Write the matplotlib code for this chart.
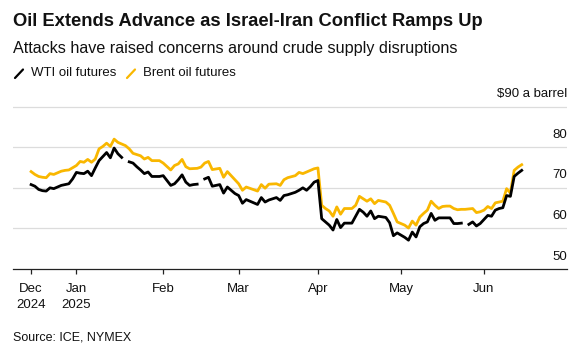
import numpy as np
import matplotlib
matplotlib.use("Agg")
import matplotlib.pyplot as plt
from matplotlib.lines import Line2D

plt.rcParams['font.family'] = ['Liberation Sans', 'DejaVu Sans']

nan = np.nan

# Trading-day number (weekdays counted from 2024-12-16) and settlement price, $/bbl
brent_days = [0, 1, 2, 3, 4, 5, 6, 8, 9, 10, 12, 13, 14, 15, 16, 17, 18, 19, 20, 21,
              22, 23, 24, 25, 26, 27, 29, 30, 31, 32, 34, 35, 37, 38, 39, 40, 41, 42, 44, 45,
              46, 47, 48, 50, 51, 52, 53, 54, 55, 56, 57, 60, 61, 62, 63, 65, 66, 67, 68, 70,
              71, 72, 74, 75, 76, 77, 78, 79, 80, 81, 82, 83, 84, 85, 86, 87, 88, 89, 90, 91,
              92, 94, 95, 96, 97, 99, 100, 101, 102, 103, 104, 105, 106, 107, 108, 109, 110, 111, 112, 113,
              114, 115, 116, 117, 118, 119, 120, 121, 122, 123, 124, 125, 126, 127, 128, 129, 130]
brent_prices = [74.0, 73.3, 72.8, 72.6, 72.5, 73.5, 73.3, 74.1, 74.3, 74.4, 75.5, 76.5, 76.3, 77.0, 76.3, 77.1, 79.6, 80.2, 81.0, 80.2,
                82.0, 81.2, 80.8, 80.4, 79.6, 78.5, 77.9, 77.1, 77.5, 76.7, 76.7, 76.1, 74.4, 75.5, 75.9, 77.0, 75.2, 74.7, 74.8, 75.1,
                76.1, 76.5, 74.5, 74.8, 72.6, 74.0, 73.0, 72.0, 71.0, 69.4, 70.2, 69.2, 70.8, 69.9, 70.9, 71.0, 70.6, 72.0, 72.5, 73.0,
                73.8, 73.5, 74.3, 74.7, 74.9, 65.7, 64.9, 64.3, 63.0, 65.3, 63.5, 64.9, 64.9, 64.9, 65.7, 67.9, 67.3, 66.7, 67.3, 66.1,
                66.9, 66.5, 65.7, 63.7, 61.6, 60.8, 60.1, 61.8, 60.8, 62.8, 63.7, 64.5, 66.7, 65.7, 64.9, 65.4, 65.5, 65.5, 64.9, 64.6,
                64.7, 64.7, 64.8, 64.9, 63.9, 64.1, 64.5, 65.4, 64.9, 66.3, 66.5, 66.7, 69.8, 68.7, 74.3, 75.1, 75.7]

# NYMEX has no settlement on US holidays (MLK Day, Presidents Day, Memorial Day)
wti_days = [0, 1, 2, 3, 4, 5, 6, 8, 9, 10, 11, 12, 13, 14, 15, 16, 17, 18, 19, 20,
            21, 22, 23, 24, 25, 26, 27, 28, 29, 30, 31, 32, 34, 35, 37, 38, 39, 40, 41, 42,
            43, 44, 45, 46, 47, 48, 50, 51, 52, 53, 54, 55, 56, 57, 60, 61, 62, 63, 65, 66,
            67, 68, 70, 71, 72, 73, 74, 75, 76, 77, 78, 79, 80, 81, 82, 83, 84, 85, 87, 88,
            89, 90, 91, 92, 94, 95, 96, 97, 99, 100, 101, 102, 103, 104, 105, 106, 107, 108, 109, 110,
            111, 112, 113, 114, 115, 116, 117, 118, 119, 120, 121, 122, 123, 124, 125, 126, 127, 128, 129, 130]
wti_prices = [70.8, 70.4, 69.6, 69.3, 69.2, 70.0, 69.8, 70.6, 70.8, 71.0, 72.2, 73.8, 73.6, 73.5, 74.1, 73.0, 74.9, 76.7, 77.7, 78.7,
              77.4, 79.8, 78.4, 77.5, nan, 76.4, 76.1, 75.2, 74.4, 73.5, 73.9, 72.8, 72.8, 73.0, 70.6, 71.0, 72.0, 73.2, 71.4, 70.6,
              70.8, 70.9, nan, 72.2, 72.6, 70.4, 70.8, 68.7, 70.2, 69.4, 68.6, 68.1, 66.2, 67.1, 65.9, 67.6, 66.5, 67.0, 67.6, 66.9,
              68.1, 68.3, 68.9, 69.4, 70.0, 69.4, 70.3, 71.4, 71.8, 62.4, 61.6, 60.8, 59.6, 62.2, 60.2, 61.3, 61.3, 61.3, 64.7, 64.0,
              63.0, 64.3, 62.4, 63.0, 62.7, 61.4, 58.2, 58.9, 57.8, 57.1, 59.1, 57.9, 60.4, 61.2, 61.6, 63.7, 62.0, 62.6, 62.6, 62.6,
              62.6, 61.2, 61.2, 61.3, nan, 61.0, 61.6, 60.6, 61.2, 62.2, 63.2, 63.0, 64.5, 64.9, 65.1, 68.1, 67.9, 72.8, 73.6, 74.3]

start_date = '2024-12-16'
tick_dates = ['2024-12-16', '2025-01-01', '2025-02-03', '2025-03-03', '2025-04-01', '2025-05-01', '2025-06-02']
tick_labels = ['Dec\n2024', 'Jan\n2025', 'Feb', 'Mar', 'Apr', 'May', 'Jun']
y_ticks = [50, 60, 70, 80, 90]
y_labels = ['50', '60', '70', '80', '$90 a barrel']

series_names = ['WTI oil futures', 'Brent oil futures']
WTI_COLOR = '#000000'
BRENT_COLOR = '#F9B700'
TEXT = '#111111'

W, H = 584, 347
fig = plt.figure(figsize=(W / 100, H / 100), dpi=100)
fig.patch.set_facecolor('white')

ax = fig.add_axes([13 / W, (H - 269) / H, (567 - 13) / W, (269 - 102.6) / H])
ax.set_xlim(-4.8, 142)
ax.set_ylim(50, 91)

ax.plot(brent_days, brent_prices, color=BRENT_COLOR, lw=2.0, solid_joinstyle='round', zorder=3)
ax.plot(wti_days, wti_prices, color=WTI_COLOR, lw=2.0, solid_joinstyle='round', zorder=4)

for s in ['top', 'right', 'left']:
    ax.spines[s].set_visible(False)
ax.spines['bottom'].set_color('#222222')
ax.spines['bottom'].set_linewidth(0.9)

ax.set_yticks(y_ticks[1:])
ax.tick_params(axis='y', length=0, labelleft=False)
ax.grid(axis='y', color='#dcdcdc', lw=0.9)
ax.set_axisbelow(True)

tick_pos = np.busday_count(start_date, tick_dates)
ax.set_xticks(tick_pos)
ax.set_xticklabels(tick_labels, fontsize=9.5, color=TEXT, linespacing=1.45)
ax.tick_params(axis='x', direction='out', length=3.6, width=0.9, color='#222222', pad=6.5)

for v, lab in zip(y_ticks, y_labels):
    ax.annotate(lab, xy=(1, v), xycoords=('axes fraction', 'data'), xytext=(0, 8.9),
                textcoords='offset points', ha='right', va='center', fontsize=9.5, color=TEXT)

fig.text(13 / W, 1 - 22 / H, 'Oil Extends Advance as Israel-Iran Conflict Ramps Up',
         fontsize=13.2, fontweight='bold', color=TEXT, ha='left', va='center')
fig.text(13 / W, 1 - 49 / H, 'Attacks have raised concerns around crude supply disruptions',
         fontsize=11.6, color=TEXT, ha='left', va='center')

# legend: short slanted strokes followed by the series names
legend_y = 1 - 73 / H
for x0, name, col in [(15, series_names[0], WTI_COLOR), (127, series_names[1], BRENT_COLOR)]:
    fig.add_artist(Line2D([x0 / W, (x0 + 8) / W], [1 - 78 / H, 1 - 69.5 / H],
                          color=col, lw=1.6, solid_capstyle='round', transform=fig.transFigure))
    fig.text((x0 + 16) / W, legend_y, name, fontsize=9.5, color=TEXT, ha='left', va='center')

fig.text(13 / W, 1 - 337 / H, 'Source: ICE, NYMEX', fontsize=9, color=TEXT, ha='left', va='center')

fig.savefig('out.png', dpi=100, facecolor='white')
